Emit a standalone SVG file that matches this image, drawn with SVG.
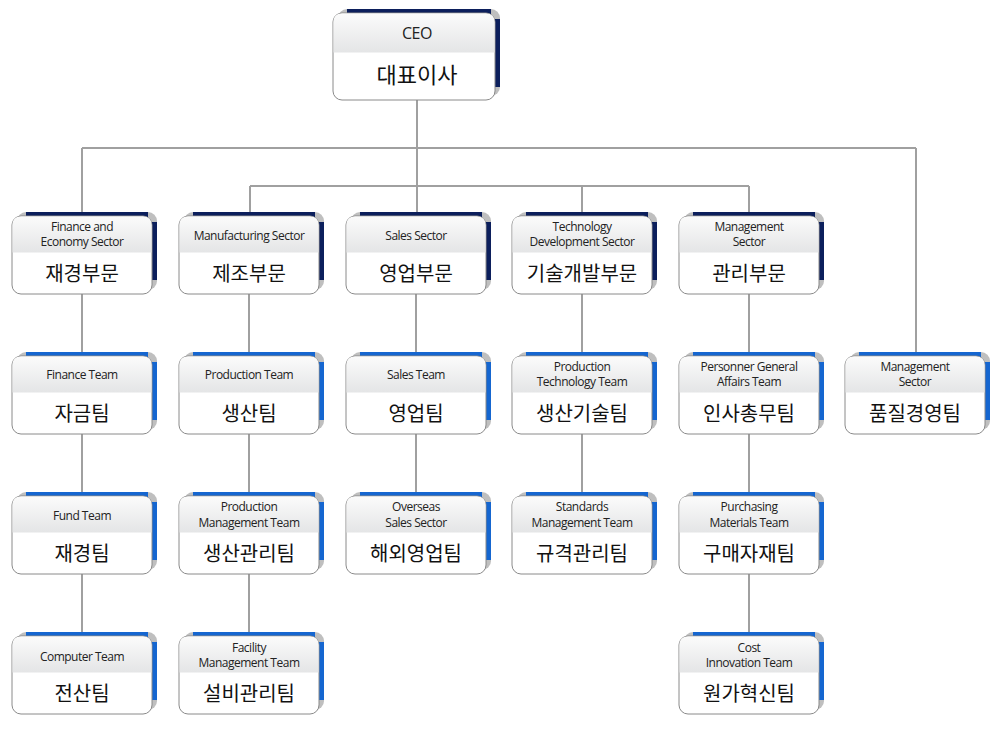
<svg xmlns="http://www.w3.org/2000/svg" width="1000" height="748" viewBox="0 0 1000 748">
<defs>
<linearGradient id="hg" x1="0" y1="0" x2="0" y2="1"><stop offset="0" stop-color="#fbfbfb"/><stop offset="1" stop-color="#e4e5e6"/></linearGradient>
<clipPath id="c1"><rect x="0" y="0" width="140" height="78" rx="9"/></clipPath>
<clipPath id="c2"><rect x="0" y="0" width="162" height="87" rx="9"/></clipPath>
<g id="sec"><rect x="5" y="-4" width="140" height="78" rx="9" fill="#bfbfbf"/><rect x="14" y="-4" width="122" height="74" fill="#0c1f5c"/><rect x="137" y="6" width="8" height="58" fill="#0c1f5c"/><rect x="0" y="0" width="140" height="78" rx="9" fill="#fff" stroke="#8a8a8a"/><rect x="0.5" y="0.5" width="139" height="36" fill="url(#hg)" clip-path="url(#c1)"/></g>
<g id="team"><rect x="5" y="-4" width="140" height="78" rx="9" fill="#bfbfbf"/><rect x="14" y="-4" width="122" height="74" fill="#1566d0"/><rect x="137" y="6" width="8" height="58" fill="#1566d0"/><rect x="0" y="0" width="140" height="78" rx="9" fill="#fff" stroke="#8a8a8a"/><rect x="0.5" y="0.5" width="139" height="36" fill="url(#hg)" clip-path="url(#c1)"/></g>
</defs>
<style>
.e{font-family:"Open Sans","Liberation Sans",sans-serif;font-size:12px;fill:#222;text-anchor:middle;letter-spacing:-0.5px}
.k{font-family:"Noto Sans CJK KR",sans-serif;font-size:20px;fill:#111;text-anchor:middle}
.l{stroke:#a0a0a0;stroke-width:2;fill:none}
</style>
<rect width="1000" height="748" fill="#fff"/>
<g id="connectors">
<path class="l" d="M417 100V216M82 148H916M82 148V216M916 148V356M250 186H749M250 186V216M582 186V216M749 186V216"/>
<path class="l" d="M82 294V636M249 294V636M416 294V496M582 294V496M749 294V636"/>
</g>
<g id="ceo"><rect x="338" y="9" width="162" height="87" rx="9" fill="#bfbfbf"/><rect x="347" y="9" width="144" height="84" fill="#0c1f5c"/><rect x="492" y="19" width="8" height="68" fill="#0c1f5c"/><rect x="333" y="13" width="162" height="87" rx="9" fill="#fff" stroke="#8a8a8a"/><g transform="translate(333,13)"><rect x="0.5" y="0.5" width="161" height="39" fill="url(#hg)" clip-path="url(#c2)"/></g><text class="e" x="417" y="39" style="font-size:16px">CEO</text><text class="k" x="417" y="83" style="font-size:22px">대표이사</text></g>

<g id="s1"><use href="#sec" x="12" y="216"/><text class="e" x="82" y="231">Finance and</text><text class="e" x="82" y="246">Economy  Sector</text><text class="k" x="82" y="281">재경부문</text></g>
<g id="s2"><use href="#sec" x="179" y="216"/><text class="e" x="249" y="240">Manufacturing Sector</text><text class="k" x="249" y="281">제조부문</text></g>
<g id="s3"><use href="#sec" x="346" y="216"/><text class="e" x="416" y="240">Sales Sector</text><text class="k" x="416" y="281">영업부문</text></g>
<g id="s4"><use href="#sec" x="512" y="216"/><text class="e" x="582" y="231">Technology</text><text class="e" x="582" y="246">Development Sector</text><text class="k" x="582" y="281">기술개발부문</text></g>
<g id="s5"><use href="#sec" x="679" y="216"/><text class="e" x="749" y="231">Management</text><text class="e" x="749" y="246">Sector</text><text class="k" x="749" y="281">관리부문</text></g>

<g id="t1"><use href="#team" x="12" y="356"/><text class="e" x="82" y="379">Finance Team</text><text class="k" x="82" y="421">자금팀</text></g>
<g id="t2"><use href="#team" x="179" y="356"/><text class="e" x="249" y="379">Production Team</text><text class="k" x="249" y="421">생산팀</text></g>
<g id="t3"><use href="#team" x="346" y="356"/><text class="e" x="416" y="379">Sales Team</text><text class="k" x="416" y="421">영업팀</text></g>
<g id="t4"><use href="#team" x="512" y="356"/><text class="e" x="582" y="371">Production</text><text class="e" x="582" y="386">Technology Team</text><text class="k" x="582" y="421">생산기술팀</text></g>
<g id="t5"><use href="#team" x="679" y="356"/><text class="e" x="749" y="371">Personner General</text><text class="e" x="749" y="386">Affairs Team</text><text class="k" x="749" y="421">인사총무팀</text></g>
<g id="t6"><use href="#team" x="845" y="356"/><text class="e" x="915" y="371">Management</text><text class="e" x="915" y="386">Sector</text><text class="k" x="915" y="421">품질경영팀</text></g>

<g id="u1"><use href="#team" x="12" y="496"/><text class="e" x="82" y="520">Fund Team</text><text class="k" x="82" y="561">재경팀</text></g>
<g id="u2"><use href="#team" x="179" y="496"/><text class="e" x="249" y="511">Production</text><text class="e" x="249" y="527">Management Team</text><text class="k" x="249" y="561">생산관리팀</text></g>
<g id="u3"><use href="#team" x="346" y="496"/><text class="e" x="416" y="511">Overseas</text><text class="e" x="416" y="527">Sales Sector</text><text class="k" x="416" y="561">해외영업팀</text></g>
<g id="u4"><use href="#team" x="512" y="496"/><text class="e" x="582" y="511">Standards</text><text class="e" x="582" y="527">Management Team</text><text class="k" x="582" y="561">규격관리팀</text></g>
<g id="u5"><use href="#team" x="679" y="496"/><text class="e" x="749" y="511">Purchasing</text><text class="e" x="749" y="527">Materials Team</text><text class="k" x="749" y="561">구매자재팀</text></g>

<g id="v1"><use href="#team" x="12" y="636"/><text class="e" x="82" y="661">Computer Team</text><text class="k" x="82" y="701">전산팀</text></g>
<g id="v2"><use href="#team" x="179" y="636"/><text class="e" x="249" y="652">Facility</text><text class="e" x="249" y="667">Management Team</text><text class="k" x="249" y="701">설비관리팀</text></g>
<g id="v5"><use href="#team" x="679" y="636"/><text class="e" x="749" y="652">Cost</text><text class="e" x="749" y="667">Innovation Team</text><text class="k" x="749" y="701">원가혁신팀</text></g>
</svg>
